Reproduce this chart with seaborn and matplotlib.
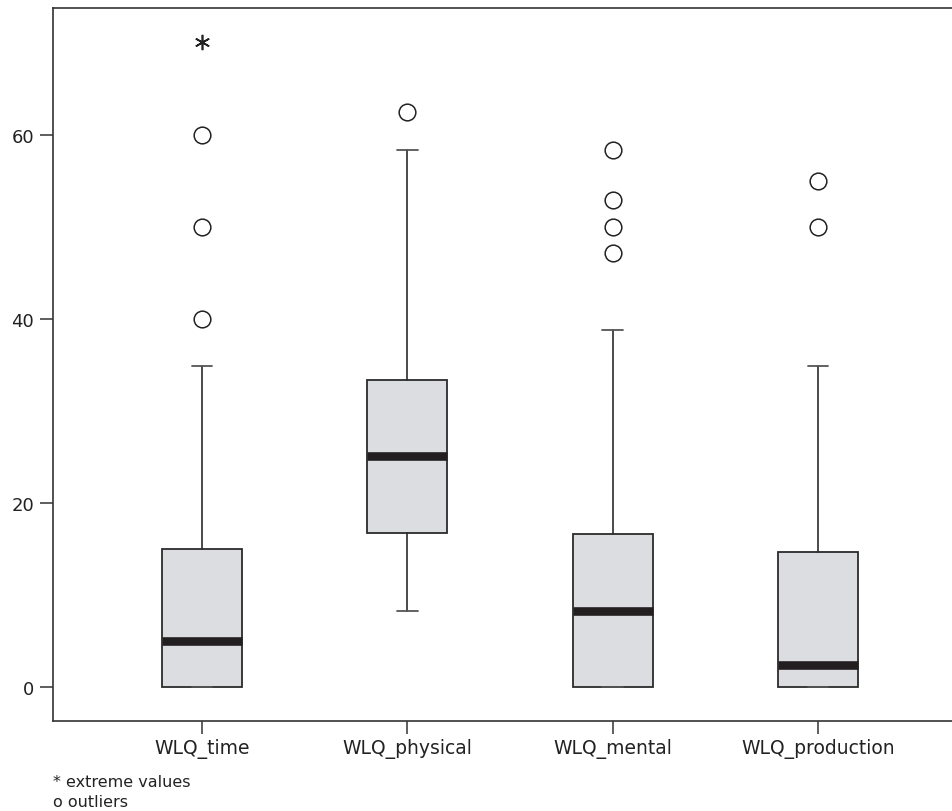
import numpy as np
import matplotlib
matplotlib.use("Agg")
import matplotlib.pyplot as plt
import seaborn as sns

# boxplot summary values
groups = ["WLQ_time", "WLQ_physical", "WLQ_mental", "WLQ_production"]
q1 = [0.0, 16.7, 0.0, 0.0]
median = [5.0, 25.1, 8.3, 2.4]
q3 = [15.0, 33.4, 16.6, 14.7]
whis_lo = [0.0, 8.3, 0.0, 0.0]
whis_hi = [34.9, 58.4, 38.8, 34.9]
outliers = [[40.0, 50.0, 60.0], [62.5], [47.2, 50.0, 52.9, 58.4], [50.0, 55.0]]
extremes = [[70.1], [], [], []]

sns.set_style("white")
plt.rcParams['font.family'] = ['DejaVu Sans']

fig = plt.figure(figsize=(9.53, 8.12), dpi=100)
ax = fig.add_axes([53/953, 90/812, 1 - 53/953, (722 - 9)/812])

stats = []
for i, g in enumerate(groups):
    stats.append(dict(label=g, q1=q1[i], med=median[i], q3=q3[i],
                      whislo=whis_lo[i], whishi=whis_hi[i], fliers=outliers[i]))

ax.bxp(stats, positions=range(len(groups)), widths=0.39, patch_artist=True,
       boxprops=dict(facecolor="#dcdde0", edgecolor="#2b2b2b", linewidth=1.3),
       medianprops=dict(color="#231f20", linewidth=6.2, solid_capstyle="butt"),
       whiskerprops=dict(color="#2b2b2b", linewidth=1.2),
       capprops=dict(color="#555555", linewidth=1.3),
       capwidths=0.10,
       flierprops=dict(marker="o", markersize=12, markerfacecolor="none",
                       markeredgecolor="#222222", markeredgewidth=1.1))

for i, ext in enumerate(extremes):
    if ext:
        ax.plot([i] * len(ext), ext, linestyle="none", marker=(6, 2, 0),
                markersize=11, color="#222222", markeredgewidth=1.2)

ax.set_xlim(-0.726, 3.657)
ax.set_ylim(-3.7, 73.8)
ax.set_yticks([0, 20, 40, 60])
ax.set_xticks(range(len(groups)))
ax.set_xticklabels(groups)

for side in ["left", "bottom", "top"]:
    ax.spines[side].set_color("#333333")
    ax.spines[side].set_linewidth(1.2)
ax.spines["right"].set_visible(False)
ax.tick_params(axis="both", direction="out", length=9.5, width=1.1,
               color="#333333", labelcolor="#222222", bottom=True, left=True)
ax.tick_params(axis="y", labelsize=13, pad=4)
ax.tick_params(axis="x", labelsize=13.5, pad=3)

fig.text(53/953, 1 - 783/812, "* extreme values", fontsize=11.5, color="#222222",
         va="center", ha="left")
fig.text(53/953, 1 - 803/812, "o outliers", fontsize=11.5, color="#222222",
         va="center", ha="left")

fig.savefig("out.png", dpi=100)
